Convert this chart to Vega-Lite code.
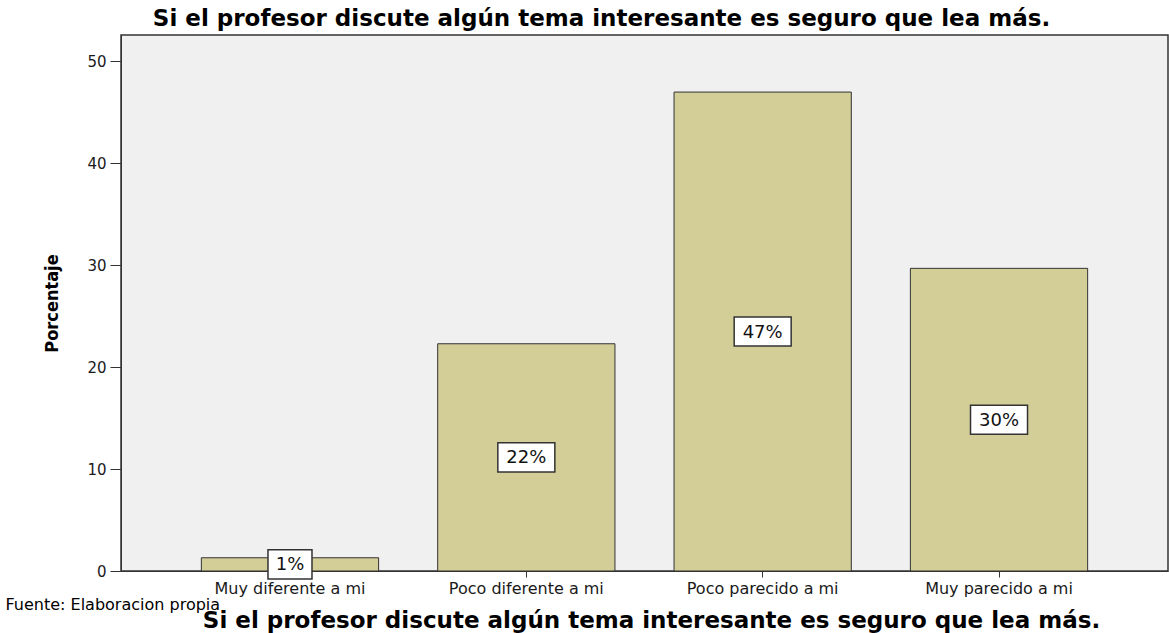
{
  "$schema": "https://vega.github.io/schema/vega-lite/v6.json",
  "width": 1047,
  "height": 536,
  "autosize": "none",
  "padding": {"left": 121, "top": 35, "right": 1, "bottom": 62},
  "background": "white",
  "config": {
    "view": {"fill": "#f0f0f0", "stroke": "#333333", "strokeWidth": 1.5},
    "axis": {"labelFont": "DejaVu Sans", "labelFontSize": 15, "labelColor": "#1a1a1a", "domainColor": "#333333", "tickColor": "#333333", "grid": false}
  },
  "title": {
    "text": "Si el profesor discute algún tema interesante es seguro que lea más.",
    "anchor": "middle",
    "frame": "group",
    "font": "DejaVu Sans",
    "fontWeight": "bold",
    "fontSize": 23,
    "color": "#000000",
    "dx": -43,
    "offset": 4
  },
  "data": {
    "values": [
      {"categoria": "Muy diferente a mi", "pct": 1.3, "etiqueta": "1%"},
      {"categoria": "Poco diferente a mi", "pct": 22.3, "etiqueta": "22%"},
      {"categoria": "Poco parecido a mi", "pct": 47.0, "etiqueta": "47%"},
      {"categoria": "Muy parecido a mi", "pct": 29.7, "etiqueta": "30%"}
    ]
  },
  "encoding": {
    "x": {
      "field": "categoria",
      "type": "nominal",
      "sort": null,
      "scale": {"paddingInner": 0.25, "paddingOuter": 0.34}
    }
  },
  "layer": [
    {
      "mark": {"type": "bar", "fill": "#d3cd98", "stroke": "#333333", "strokeWidth": 1},
      "encoding": {
        "x": {
          "field": "categoria",
          "type": "nominal",
          "sort": null,
          "axis": {
            "labelAngle": 0,
            "labelFontSize": 16,
            "tickSize": 6,
            "labelPadding": 3,
            "domain": true,
            "title": "Si el profesor discute algún tema interesante es seguro que lea más.",
            "titleFont": "DejaVu Sans",
            "titleFontWeight": "bold",
            "titleFontSize": 23,
            "titleColor": "#000000",
            "titleX": 530,
            "titleY": 56,
            "titleBaseline": "alphabetic",
            "titleAlign": "center"
          }
        },
        "y": {
          "field": "pct",
          "type": "quantitative",
          "scale": {"domain": [0, 52.6], "nice": false},
          "axis": {
            "values": [0, 10, 20, 30, 40, 50],
            "tickSize": 11,
            "labelPadding": 4,
            "title": "Porcentaje",
            "titleFont": "DejaVu Sans Condensed",
            "titleFontWeight": "bold",
            "titleFontSize": 18,
            "titleColor": "#000000",
            "titleAngle": -90,
            "titleX": -69,
            "titleY": 268,
            "titleAlign": "center",
            "titleBaseline": "middle"
          }
        }
      }
    },
    {
      "transform": [{"calculate": "datum.pct / 2", "as": "mitad"}],
      "mark": {"type": "point", "filled": true, "fill": "white", "fillOpacity": 1, "stroke": "#333333", "strokeWidth": 1.5, "opacity": 1},
      "encoding": {
        "y": {
          "field": "mitad",
          "type": "quantitative",
          "axis": {
            "orient": "right",
            "labels": false,
            "ticks": false,
            "domain": false,
            "title": "Fuente: Elaboracion propia",
            "titleFont": "DejaVu Sans",
            "titleFontWeight": "normal",
            "titleFontSize": 16,
            "titleColor": "#000000",
            "titleAngle": 0,
            "titleX": -1163,
            "titleY": 574,
            "titleAlign": "left",
            "titleBaseline": "alphabetic"
          }
        },
        "size": {"value": 3249},
        "shape": {
          "condition": {"test": "datum.pct < 10", "value": "M-0.772,-0.509H0.772V0.509H-0.772Z"},
          "value": "M-1,-0.509H1V0.509H-1Z"
        }
      }
    },
    {
      "transform": [{"calculate": "datum.pct / 2", "as": "mitad"}],
      "mark": {"type": "text", "font": "DejaVu Sans", "fontSize": 18, "color": "#111111", "baseline": "middle", "align": "center", "dy": 1},
      "encoding": {
        "y": {"field": "mitad", "type": "quantitative", "axis": null},
        "text": {"field": "etiqueta"}
      }
    }
  ],
  "resolve": {"axis": {"y": "independent"}}
}
